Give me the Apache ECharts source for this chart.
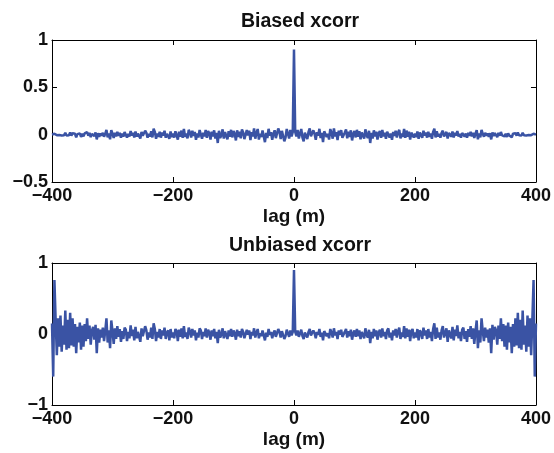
<!DOCTYPE html>
<html>
<head>
<meta charset="utf-8">
<script src="https://cdn.jsdelivr.net/npm/echarts@6/dist/echarts.min.js"></script>
<style>
html,body{margin:0;padding:0;background:#fff;}
#c{width:554px;height:453px;}
</style>
</head>
<body>
<div id="c"></div>
<script>
// lags from -400 to 400, step 2
const lagMin = -400;
const lagStep = 2;
const xTicks = [-400, -200, 0, 200, 400];
const yTicksTop = [-0.5, 0, 0.5, 1];
const yTicksBottom = [-1, 0, 1];
const titleTop = 'Biased xcorr';
const titleBottom = 'Unbiased xcorr';
const xName = 'lag (m)';

const biased = [
0.0004, -0.0045, 0.0095, 0.0035, -0.0056, 0.0041, -0.0032, 0.0097, -0.0085, 0.0024,
-0.0052, 0.019, -0.0094, 0.0101, -0.0058, 0.0233, -0.0098, 0.0157, -0.0046, 0.0097,
-0.028, 0.006, -0.009, 0.014, -0.024, 0.01, -0.018, 0.013, -0.008, 0.028,
-0.011, 0.019, -0.025, 0.008, 0.017, -0.014, 0.023, -0.05, 0.015, -0.024,
0.012, -0.01, 0.019, -0.022, 0.009, 0.05, -0.028, 0.012, -0.048, 0.047,
0.01, -0.035, 0.02, -0.018, 0.029, -0.011, 0.019, -0.031, 0.012, -0.021,
0.027, 0.018, -0.031, 0.009, -0.019, 0.039, -0.01, 0.02, -0.03, 0.034,
-0.021, 0.011, 0.018, -0.04, 0.029, -0.011, -0.019, 0.042, 0.019, -0.031,
0.008, -0.02, 0.037, -0.029, 0.063, 0.03, -0.043, 0.013, -0.022, 0.031,
-0.031, 0.022, -0.009, 0.041, -0.032, 0.009, 0.024, -0.043, 0.034, -0.025,
0.01, -0.03, 0.036, 0.021, -0.052, 0.031, -0.021, 0.043, -0.033, 0.06,
-0.022, 0.011, -0.039, 0.051, 0.023, -0.029, 0.041, -0.012, 0.03, -0.054,
0.012, -0.03, 0.049, 0.031, -0.043, 0.019, -0.019, 0.05, -0.032, 0.038,
0.013, -0.051, 0.032, -0.02, 0.046, -0.04, 0.02, -0.088, 0.041, -0.035,
-0.007, 0.056, -0.042, 0.028, 0.022, -0.05, 0.036, -0.022, 0.051, -0.029,
0.038, 0.008, -0.061, 0.046, -0.023, 0.031, -0.039, 0.055, 0.024, -0.047,
-0.032, 0.048, -0.008, 0.041, -0.057, 0.025, -0.017, 0.067, -0.042, 0.017,
0.06, -0.051, 0.009, -0.026, 0.044, 0.035, -0.079, 0.018, -0.035, 0.062,
-0.009, 0.027, -0.055, 0.009, 0.046, -0.037, -0.018, 0.065, 0.028, -0.046,
0.04, 0.02, -0.07, -0.03, 0.06, 0.01, -0.04, 0.05, -0.02, 0.03,
0.9,
0.03, -0.02, 0.05, -0.04, 0.01, 0.06, -0.03, -0.07, 0.02, 0.04,
-0.046, 0.028, 0.065, -0.018, -0.037, 0.046, 0.009, -0.055, 0.027, -0.009,
0.062, -0.035, 0.018, -0.079, 0.035, 0.044, -0.026, 0.009, -0.051, 0.06,
0.017, -0.042, 0.067, -0.017, 0.025, -0.057, 0.041, -0.008, 0.048, -0.032,
-0.047, 0.024, 0.055, -0.039, 0.031, -0.023, 0.046, -0.061, 0.008, 0.038,
-0.029, 0.051, -0.022, 0.036, -0.05, 0.022, 0.028, -0.042, 0.056, -0.007,
-0.035, 0.041, -0.088, 0.02, -0.04, 0.046, -0.02, 0.032, -0.051, 0.013,
0.038, -0.032, 0.05, -0.019, 0.019, -0.043, 0.031, 0.049, -0.03, 0.012,
-0.054, 0.03, -0.012, 0.041, -0.029, 0.023, 0.051, -0.039, 0.011, -0.022,
0.06, -0.033, 0.043, -0.021, 0.031, -0.052, 0.021, 0.036, -0.03, 0.01,
-0.025, 0.034, -0.043, 0.024, 0.009, -0.032, 0.041, -0.009, 0.022, -0.031,
0.031, -0.022, 0.013, -0.043, 0.03, 0.063, -0.029, 0.037, -0.02, 0.008,
-0.031, 0.019, 0.042, -0.019, -0.011, 0.029, -0.04, 0.018, 0.011, -0.021,
0.034, -0.03, 0.02, -0.01, 0.039, -0.019, 0.009, -0.031, 0.018, 0.027,
-0.021, 0.012, -0.031, 0.019, -0.011, 0.029, -0.018, 0.02, -0.035, 0.01,
0.047, -0.048, 0.012, -0.028, 0.05, 0.009, -0.022, 0.019, -0.01, 0.012,
-0.024, 0.015, -0.05, 0.023, -0.014, 0.017, 0.008, -0.025, 0.019, -0.011,
0.028, -0.008, 0.013, -0.018, 0.01, -0.024, 0.014, -0.009, 0.006, -0.028,
0.0097, -0.0046, 0.0157, -0.0098, 0.0233, -0.0058, 0.0101, -0.0094, 0.019, -0.0052,
0.0024, -0.0085, 0.0097, -0.0032, 0.0041, -0.0056, 0.0035, 0.0095, -0.0045, 0.0004
];

const unbiased = [
0.15, -0.6, 0.76, 0.2, -0.3, 0.22, -0.18, 0.26, -0.25, 0.12,
-0.15, 0.33, -0.22, 0.2, -0.2, 0.3, -0.16, 0.22, -0.18, 0.14,
-0.27, 0.1, -0.12, 0.16, -0.22, 0.12, -0.18, 0.14, -0.1, 0.22,
-0.07, 0.12, -0.15, 0.05, 0.1, -0.08, 0.13, -0.27, 0.08, -0.12,
0.06, -0.05, 0.09, -0.1, 0.04, 0.22, -0.12, 0.05, -0.2, 0.19,
0.04, -0.14, 0.08, -0.07, 0.11, -0.04, 0.07, -0.11, 0.04, -0.07,
0.09, 0.06, -0.1, 0.03, -0.06, 0.12, -0.03, 0.06, -0.09, 0.1,
-0.06, 0.03, 0.05, -0.11, 0.08, -0.03, -0.05, 0.11, 0.05, -0.08,
0.02, -0.05, 0.09, -0.07, 0.15, 0.07, -0.1, 0.03, -0.05, 0.07,
-0.07, 0.05, -0.02, 0.09, -0.07, 0.02, 0.05, -0.09, 0.07, -0.05,
0.02, -0.06, 0.07, 0.04, -0.1, 0.06, -0.04, 0.08, -0.06, 0.11,
-0.04, 0.02, -0.07, 0.09, 0.04, -0.05, 0.07, -0.02, 0.05, -0.09,
0.02, -0.05, 0.08, 0.05, -0.07, 0.03, -0.03, 0.08, -0.05, 0.06,
0.02, -0.08, 0.05, -0.03, 0.07, -0.06, 0.03, -0.13, 0.06, -0.05,
-0.01, 0.08, -0.06, 0.04, 0.03, -0.07, 0.05, -0.03, 0.07, -0.04,
0.05, 0.01, -0.08, 0.06, -0.03, 0.04, -0.05, 0.07, 0.03, -0.06,
-0.04, 0.06, -0.01, 0.05, -0.07, 0.03, -0.02, 0.08, -0.05, 0.02,
0.07, -0.06, 0.01, -0.03, 0.05, 0.04, -0.09, 0.02, -0.04, 0.07,
-0.01, 0.03, -0.06, 0.01, 0.05, -0.04, -0.02, 0.07, 0.03, -0.05,
0.04, 0.02, -0.07, -0.03, 0.06, 0.01, -0.04, 0.05, -0.02, 0.03,
0.9,
0.03, -0.02, 0.05, -0.04, 0.01, 0.06, -0.03, -0.07, 0.02, 0.04,
-0.05, 0.03, 0.07, -0.02, -0.04, 0.05, 0.01, -0.06, 0.03, -0.01,
0.07, -0.04, 0.02, -0.09, 0.04, 0.05, -0.03, 0.01, -0.06, 0.07,
0.02, -0.05, 0.08, -0.02, 0.03, -0.07, 0.05, -0.01, 0.06, -0.04,
-0.06, 0.03, 0.07, -0.05, 0.04, -0.03, 0.06, -0.08, 0.01, 0.05,
-0.04, 0.07, -0.03, 0.05, -0.07, 0.03, 0.04, -0.06, 0.08, -0.01,
-0.05, 0.06, -0.13, 0.03, -0.06, 0.07, -0.03, 0.05, -0.08, 0.02,
0.06, -0.05, 0.08, -0.03, 0.03, -0.07, 0.05, 0.08, -0.05, 0.02,
-0.09, 0.05, -0.02, 0.07, -0.05, 0.04, 0.09, -0.07, 0.02, -0.04,
0.11, -0.06, 0.08, -0.04, 0.06, -0.1, 0.04, 0.07, -0.06, 0.02,
-0.05, 0.07, -0.09, 0.05, 0.02, -0.07, 0.09, -0.02, 0.05, -0.07,
0.07, -0.05, 0.03, -0.1, 0.07, 0.15, -0.07, 0.09, -0.05, 0.02,
-0.08, 0.05, 0.11, -0.05, -0.03, 0.08, -0.11, 0.05, 0.03, -0.06,
0.1, -0.09, 0.06, -0.03, 0.12, -0.06, 0.03, -0.1, 0.06, 0.09,
-0.07, 0.04, -0.11, 0.07, -0.04, 0.11, -0.07, 0.08, -0.14, 0.04,
0.19, -0.2, 0.05, -0.12, 0.22, 0.04, -0.1, 0.09, -0.05, 0.06,
-0.12, 0.08, -0.27, 0.13, -0.08, 0.1, 0.05, -0.15, 0.12, -0.07,
0.22, -0.1, 0.14, -0.18, 0.12, -0.22, 0.16, -0.12, 0.1, -0.27,
0.14, -0.18, 0.22, -0.16, 0.3, -0.2, 0.2, -0.22, 0.33, -0.15,
0.12, -0.25, 0.26, -0.18, 0.22, -0.3, 0.2, 0.76, -0.6, 0.15
];

const FONT = '"Liberation Sans", Arial, Helvetica, sans-serif';
const LINE_COLOR = '#3a53a4';
const fmt = v => String(v).replace('-', '\u2212');

function pairs(vals) {
  return vals.map((v, i) => [lagMin + i * lagStep, v]);
}

const labelStyle = { color: '#111', fontFamily: FONT, fontWeight: 'bold', fontSize: 18 };

function xAxes(gi) {
  return [
    {
      gridIndex: gi, type: 'value', min: xTicks[0], max: xTicks[xTicks.length - 1], interval: 200,
      position: 'bottom',
      name: xName, nameLocation: 'middle', nameGap: 25,
      nameTextStyle: { color: '#111', fontFamily: FONT, fontWeight: 'bold', fontSize: 19 },
      axisLine: { show: true, onZero: false, lineStyle: { color: '#000', width: 1 } },
      axisTick: { show: true, inside: true, length: 5, lineStyle: { color: '#000' } },
      axisLabel: Object.assign({ margin: 5, formatter: fmt, showMinLabel: true, showMaxLabel: true }, labelStyle),
      splitLine: { show: false }
    },
    {
      gridIndex: gi, type: 'value', min: xTicks[0], max: xTicks[xTicks.length - 1], interval: 200,
      position: 'top',
      axisLine: { show: true, onZero: false, lineStyle: { color: '#000', width: 1 } },
      axisTick: { show: true, inside: true, length: 5, lineStyle: { color: '#000' } },
      axisLabel: { show: false },
      splitLine: { show: false }
    }
  ];
}

function yAxes(gi, ticks) {
  const mn = ticks[0], mx = ticks[ticks.length - 1], iv = ticks[1] - ticks[0];
  return [
    {
      gridIndex: gi, type: 'value', min: mn, max: mx, interval: iv, position: 'left',
      axisLine: { show: true, onZero: false, lineStyle: { color: '#000', width: 1 } },
      axisTick: { show: true, inside: true, length: 5, lineStyle: { color: '#000' } },
      axisLabel: Object.assign({ margin: 4, formatter: fmt, showMinLabel: true, showMaxLabel: true }, labelStyle),
      splitLine: { show: false }
    },
    {
      gridIndex: gi, type: 'value', min: mn, max: mx, interval: iv, position: 'right',
      axisLine: { show: true, onZero: false, lineStyle: { color: '#000', width: 1 } },
      axisTick: { show: true, inside: true, length: 5, lineStyle: { color: '#000' } },
      axisLabel: { show: false },
      splitLine: { show: false }
    }
  ];
}

const chart = echarts.init(document.getElementById('c'), null, { renderer: 'canvas' });
chart.setOption({
  animation: false,
  backgroundColor: '#fff',
  title: [
    { text: titleTop, left: 295, top: 7, textAlign: 'center',
      textStyle: { color: '#111', fontFamily: FONT, fontWeight: 'bold', fontSize: 19.5 } },
    { text: titleBottom, left: 295, top: 231, textAlign: 'center',
      textStyle: { color: '#111', fontFamily: FONT, fontWeight: 'bold', fontSize: 19.5 } }
  ],
  grid: [
    { left: 52, width: 486, top: 40, height: 142 },
    { left: 52, width: 486, top: 263, height: 142 }
  ],
  xAxis: xAxes(0).concat(xAxes(1)),
  yAxis: yAxes(0, yTicksTop).concat(yAxes(1, yTicksBottom)),
  series: [
    { type: 'line', xAxisIndex: 0, yAxisIndex: 0, data: pairs(biased), showSymbol: false,
      lineStyle: { color: LINE_COLOR, width: 2.5 }, itemStyle: { color: LINE_COLOR } },
    { type: 'line', xAxisIndex: 2, yAxisIndex: 2, data: pairs(unbiased), showSymbol: false,
      lineStyle: { color: LINE_COLOR, width: 2.5 }, itemStyle: { color: LINE_COLOR } }
  ]
});
</script>
</body>
</html>
